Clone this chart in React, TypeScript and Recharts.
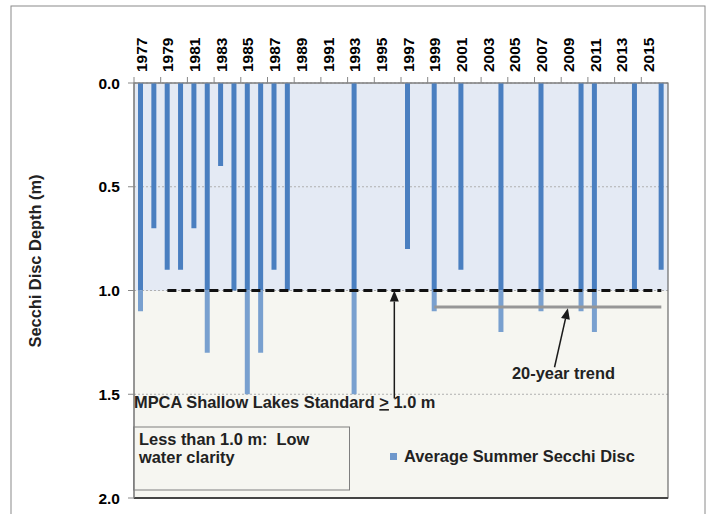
import React from "react";
import {
  ComposedChart,
  Bar,
  XAxis,
  YAxis,
  CartesianGrid,
  ReferenceLine,
  ReferenceArea,
} from "recharts";

// chart values
const years = [
  "1977", "1978", "1979", "1980", "1981", "1982", "1983", "1984", "1985", "1986",
  "1987", "1988", "1989", "1990", "1991", "1992", "1993", "1994", "1995", "1996",
  "1997", "1998", "1999", "2000", "2001", "2002", "2003", "2004", "2005", "2006",
  "2007", "2008", "2009", "2010", "2011", "2012", "2013", "2014", "2015", "2016",
];

const secchiDepth: (number | null)[] = [
  1.1, 0.7, 0.9, 0.9, 0.7, 1.3, 0.4, 1.0, 1.5, 1.3,
  0.9, 1.0, null, null, null, null, 1.5, null, null, null,
  0.8, null, 1.1, null, 0.9, null, null, 1.2, null, null,
  1.1, null, null, 1.1, 1.2, null, null, 1.0, null, 0.9,
];

const depthTicks = [0, 0.5, 1.0, 1.5, 2.0];
const standardDepth = 1.0;
const trendDepth = 1.08;
const trendStart = "1999";
const trendEnd = "2016";

// split each bar at the 1.0 m standard so the part below is drawn lighter
const rows = years.map((year, i) => {
  const v = secchiDepth[i];
  return {
    year,
    upper: v == null ? null : Math.min(v, standardDepth),
    lower: v == null ? null : Math.max(v - standardDepth, 0),
  };
});

const W = 707;
const H = 514;
const TOP = 83;
const LEFT = 134;
const RIGHT = 39;
const BOTTOM = 16;
const BAND = (W - LEFT - RIGHT) / years.length;

const FONT = "'Liberation Sans', Arial, sans-serif";
const TEXT = "#222";
const NOTE_SIZE = 16.4;

const YearTick = (props: any) => {
  const { x, payload } = props;
  const edge = x - BAND / 2;
  return (
    <g>
      <line x1={edge} y1={TOP - 6} x2={edge} y2={TOP} stroke="#888" />
      <text
        transform={`translate(${x + 6},${TOP - 11}) rotate(-90)`}
        textAnchor="start"
        fontFamily={FONT}
        fontWeight="bold"
        fontSize={15.5}
        fill="#000"
      >
        {payload.value}
      </text>
    </g>
  );
};

const Arrow = (props: any) => {
  const { x1, y1, x2, y2 } = props;
  const a = Math.atan2(y2 - y1, x2 - x1);
  const len = 11;
  const hw = 4.5;
  const bx = x2 - len * Math.cos(a);
  const by = y2 - len * Math.sin(a);
  const px = -Math.sin(a) * hw;
  const py = Math.cos(a) * hw;
  return (
    <g>
      <line x1={x1} y1={y1} x2={bx} y2={by} stroke="#1a1a1a" strokeWidth={1.5} />
      <polygon
        points={`${x2},${y2} ${bx + px},${by + py} ${bx - px},${by - py}`}
        fill="#1a1a1a"
      />
    </g>
  );
};

export default function App() {
  return (
    <div
      style={{
        position: "absolute",
        left: 0,
        top: 0,
        width: W,
        height: H,
        background: "#fff",
        overflow: "hidden",
      }}
    >
      <ComposedChart
        width={W}
        height={H}
        data={rows}
        margin={{ top: 0, right: RIGHT, bottom: BOTTOM, left: 0 }}
        barGap={0}
      >
        <CartesianGrid
          vertical={false}
          stroke="#b0b0b0"
          strokeDasharray="2 2"
          horizontalFill={["#e4eaf4", "#e4eaf4", "#f6f6f1", "#f6f6f1"]}
        />
        <XAxis
          dataKey="year"
          orientation="top"
          height={TOP}
          interval={1}
          tickLine={false}
          axisLine={{ stroke: "#888" }}
          tick={<YearTick />}
        />
        <YAxis
          reversed
          domain={[0, 2]}
          ticks={depthTicks}
          width={LEFT}
          tickSize={6}
          tickMargin={8}
          tickFormatter={(v: number) => v.toFixed(1)}
          tick={{ fontFamily: FONT, fontWeight: "bold", fontSize: 15.5, fill: "#000" }}
          tickLine={{ stroke: "#888" }}
          axisLine={{ stroke: "#888" }}
        />
        <Bar dataKey="upper" stackId="d" fill="#4a7fc0" barSize={5} isAnimationActive={false} />
        <Bar dataKey="lower" stackId="d" fill="#79a0cf" barSize={5} isAnimationActive={false} />
        <ReferenceLine
          segment={[
            { x: "1979", y: standardDepth },
            { x: trendEnd, y: standardDepth },
          ]}
          stroke="#111"
          strokeWidth={3}
          strokeDasharray="9 5"
        />
        <ReferenceLine
          segment={[
            { x: trendStart, y: trendDepth },
            { x: trendEnd, y: trendDepth },
          ]}
          stroke="#979797"
          strokeWidth={3}
        />
        <ReferenceLine
          segment={[
            { x: "1996", y: 1.52 },
            { x: "1996", y: standardDepth },
          ]}
          shape={<Arrow />}
        />
        <ReferenceLine
          segment={[
            { x: "2008", y: 1.37 },
            { x: "2009", y: 1.085 },
          ]}
          shape={<Arrow />}
        />
        <ReferenceArea y1={0} y2={2} fill="none" stroke="#6b6b6b" strokeWidth={1.2} />
        <ReferenceLine y={2} stroke="#444" strokeWidth={2} />
      </ComposedChart>

      <svg
        width={W}
        height={H}
        style={{ position: "absolute", left: 0, top: 0, pointerEvents: "none" }}
        fontFamily={FONT}
        fontWeight="bold"
      >
        <rect x={11} y={6} width={694} height={530} fill="none" stroke="#8a8a8a" />
        <text
          transform="translate(41,261) rotate(-90)"
          textAnchor="middle"
          fontSize={NOTE_SIZE}
          fill={TEXT}
        >
          Secchi Disc Depth (m)
        </text>
        <text x={134} y={408} fontSize={NOTE_SIZE} fill={TEXT} style={{ whiteSpace: "pre" }}>
          MPCA Shallow Lakes Standard{" "}
          <tspan textDecoration="underline">&gt;</tspan> 1.0 m
        </text>
        <text x={512} y={379} fontSize={NOTE_SIZE} fill={TEXT}>
          20-year trend
        </text>
        <rect x={133.5} y={427} width={216} height={63} fill="none" stroke="#7f7f7f" />
        <text x={139} y={445} fontSize={NOTE_SIZE} fill={TEXT} style={{ whiteSpace: "pre" }}>
          Less than 1.0 m:  Low
        </text>
        <text x={139} y={463} fontSize={NOTE_SIZE} fill={TEXT}>
          water clarity
        </text>
        <rect x={390} y={453} width={7} height={7} fill="#6f98cc" />
        <text x={404} y={462} fontSize={NOTE_SIZE} fill={TEXT}>
          Average Summer Secchi Disc
        </text>
      </svg>
    </div>
  );
}
